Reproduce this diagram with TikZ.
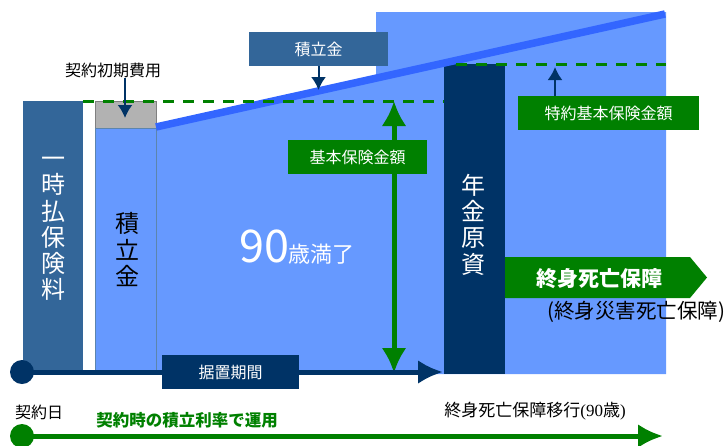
\documentclass[tikz,border=0pt]{standalone}
\usepackage{fontspec}
\setmainfont{Noto Sans CJK JP}
\newfontfamily\timesfont{Liberation Serif}
\usetikzlibrary{positioning,arrows.meta}
\definecolor{steel}{HTML}{336699}
\definecolor{sky}{HTML}{6699FF}
\definecolor{slope}{HTML}{3366FF}
\definecolor{navy}{HTML}{003366}
\definecolor{leaf}{HTML}{008000}

\begin{document}
\begin{tikzpicture}[x=1pt, y=-1pt,
    box/.style={rectangle, inner sep=0pt, text=white, minimum height=34pt,
      font=\fontsize{16pt}{16pt}\selectfont},
    vtext/.style={align=center, inner sep=0pt,
      font=\fontsize{24pt}{26.3pt}\selectfont},
    plain/.style={inner sep=0pt, font=\fontsize{16pt}{16pt}\selectfont},
    dot/.style={circle, inner sep=0pt, minimum size=24pt},
    dashline/.style={leaf, line width=3pt, dash pattern=on 11pt off 9pt},
    pointer/.style={navy, line width=2pt, -{Latex[length=13pt,width=15pt]}},
    ]
    \useasboundingbox (0,0) rectangle (727,445);

    % blocks
    \fill[sky] (156,127) -- (376,78.5) -- (376,12) -- (666,12) -- (666,374)
      -- (156,374) -- cycle;
    \fill[steel] (23,101) rectangle (83,372);
    \filldraw[fill=gray!60, draw=gray] (95,101) rectangle (156,128);
    \filldraw[fill=sky, draw=steel!80] (95,128) rectangle (156,372);
    \fill[navy] (444,64) rectangle (505,374);
    \draw[slope, line width=7.5pt] (156,127) -- (665,14);

    \draw[dashline] (83,101) -- (444,101);
    \draw[dashline] (456,64) -- (666,64);

    % insured amount
    \coordinate (kihonTop) at (394,101);
    \coordinate (kihonBot) at (394,373);
    \draw[leaf, line width=5pt, {Latex[length=25pt,width=25pt]}-{Latex[length=25pt,width=25pt]}]
      (kihonTop) -- (kihonBot);
    \node (kihon) [box, fill=leaf, minimum width=139pt] at (357.5,157) {基本保険金額};

    \node (tsumiBox) [box, fill=steel, minimum width=139pt] at (318.5,49) {積立金};
    \coordinate (tsumiTip) at (318.5,90);
    \draw[pointer] (tsumiBox) -- (tsumiTip);

    \node (tokuyaku) [box, fill=leaf, minimum width=181pt] at (608.5,113) {特約基本保険金額};
    \coordinate (tokuTip) at (555,67);
    \draw[pointer] (tokuTip |- tokuyaku.north) -- (tokuTip);

    \node (shokihi) [plain] at (113,70) {契約初期費用};
    \coordinate (shokiTip) at (125,118);
    \draw[pointer] (shokiTip |- shokihi.south) -- (shokiTip);

    % column texts
    \node (ichiji) [vtext, text=white] at (53,229) {一\\時\\払\\保\\険\\料};
    \node (tsumitate) [vtext] at (127,249.5) {積\\立\\金};
    \node (genshi) [vtext, text=white] at (473,224.5) {年\\金\\原\\資};
    \node (manryo) [anchor=base, inner sep=0pt, text=white] at (297,262)
      {\fontsize{45pt}{45pt}\selectfont 90\fontsize{22pt}{22pt}\selectfont 歳満了};

    \fill[leaf] (505,257) -- (690,257) -- (707,277.5) -- (690,298) -- (505,298) -- cycle;
    \node (shushin) [inner sep=0pt, text=white,
      font=\bfseries\fontsize{21pt}{21pt}\selectfont] at (599,279) {終身死亡保障};
    \node (saigai) [inner sep=0pt, font=\fontsize{20.5pt}{20.5pt}\selectfont]
      at (636,312) {(終身災害死亡保障)};

    % time lines
    \node (start) [dot, fill=navy] at (22,372) {};
    \coordinate (sueokiEnd) at (443,372);
    \draw[navy, line width=5pt, -{Latex[length=25pt,width=24pt]}] (start.center) -- (sueokiEnd);
    \node (sueoki) [box, fill=navy, minimum width=137pt] at (230.5,372) {据置期間};

    \node (keiyakuDot) [dot, fill=leaf] at (22,436) {};
    \coordinate (ikouEnd) at (663,436);
    \draw[leaf, line width=5pt, -{Latex[length=25pt,width=24pt]}] (keiyakuDot.center) -- (ikouEnd);

    \node (keiyakubi) [plain] at (39,412) {契約日};
    \node (unyo) [plain, text=leaf, font=\bfseries\fontsize{16.5pt}{16.5pt}\selectfont]
      at (187,420) {契約時の積立利率で運用};
    \node (ikou) [plain, font=\fontsize{17pt}{17pt}\selectfont]
      at (535,411) {終身死亡保障移行{\timesfont(90}歳{\timesfont)}};
\end{tikzpicture}
\end{document}
